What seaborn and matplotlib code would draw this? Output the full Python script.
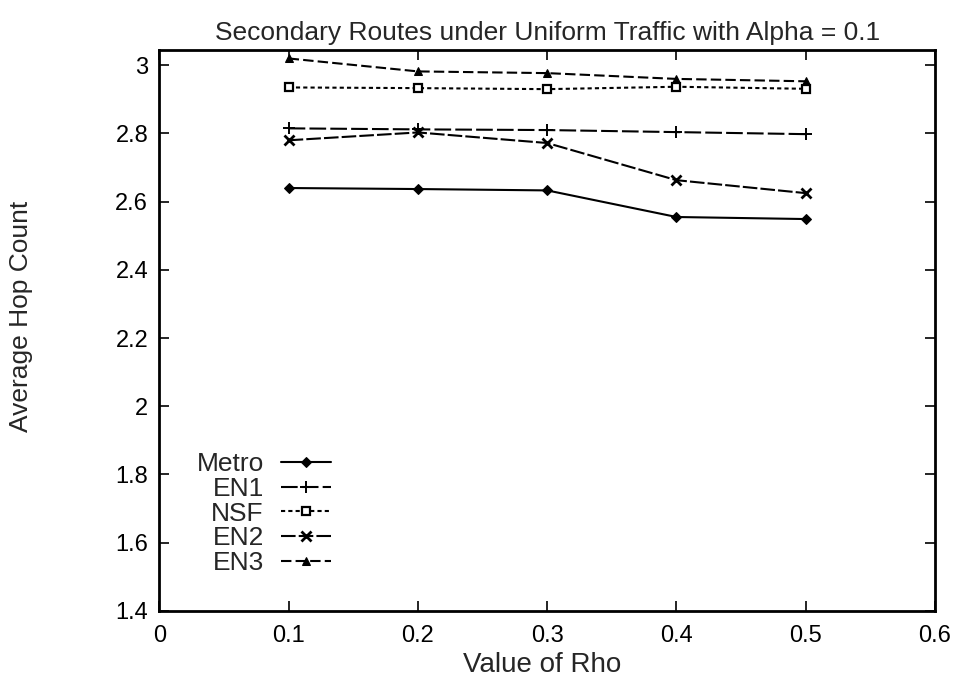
import matplotlib
matplotlib.use('Agg')
import matplotlib.pyplot as plt
import seaborn as sns
import numpy as np

rho = [0.1, 0.2, 0.3, 0.4, 0.5]
metro = [2.640, 2.637, 2.633, 2.555, 2.549]
en1 = [2.815, 2.812, 2.810, 2.804, 2.798]
nsf = [2.935, 2.933, 2.930, 2.937, 2.931]
en2 = [2.780, 2.803, 2.772, 2.663, 2.625]
en3 = [3.020, 2.982, 2.977, 2.960, 2.953]

series = [
    ('Metro', metro, 'D', '-', dict(markersize=5, markerfacecolor='black')),
    ('EN1', en1, '+', (0, (8, 2)), dict(markersize=9, markeredgewidth=1.4)),
    ('NSF', nsf, 's', (0, (2, 1.5)), dict(markersize=6, markerfacecolor='white', markeredgewidth=1.6)),
    ('EN2', en2, 'x', (0, (7, 1.5)), dict(markersize=7, markeredgewidth=2)),
    ('EN3', en3, '^', (0, (5, 2)), dict(markersize=6, markerfacecolor='black')),
]

sns.set_style('ticks')
plt.rcParams['font.family'] = ['Liberation Sans', 'DejaVu Sans']

fig = plt.figure(figsize=(9.6, 6.84), dpi=100)
ax = fig.add_axes([0.166, 0.107, 0.808, 0.82])

for name, vals, mk, ls, kw in series:
    sns.lineplot(x=rho, y=vals, ax=ax, color='black', marker=mk, linestyle=ls,
                 linewidth=1.5, markeredgecolor='black', label=name, **kw)

ax.set_xlim(0, 0.6)
ax.set_ylim(1.4, 3.045)
xt = [0, 0.1, 0.2, 0.3, 0.4, 0.5, 0.6]
yt = [1.4, 1.6, 1.8, 2.0, 2.2, 2.4, 2.6, 2.8, 3.0]
ax.set_xticks(xt)
ax.set_xticklabels(['%g' % v for v in xt])
ax.set_yticks(yt)
ax.set_yticklabels(['%g' % v for v in yt])
ax.tick_params(direction='in', top=True, right=True, length=7, width=1.2,
               labelsize=17, colors='black', pad=8)
ax.tick_params(axis='x', pad=10)
for s in ax.spines.values():
    s.set_linewidth(2)
    s.set_color('black')

ax.set_title('Secondary Routes under Uniform Traffic with Alpha = 0.1', fontsize=19, pad=7)
ax.set_xlabel('Value of Rho', fontsize=20)
ax.set_ylabel('Average Hop Count', fontsize=19)
ax.xaxis.set_label_coords(0.494, -0.074)
ax.yaxis.set_label_coords(-0.163, 0.525)

leg = ax.legend(loc='lower left', bbox_to_anchor=(0.031, 0.04), frameon=False,
                markerfirst=False, fontsize=19, handlelength=1.9, labelspacing=0.03,
                borderpad=0, handletextpad=0.65)

fig.savefig('out.png', dpi=100)
